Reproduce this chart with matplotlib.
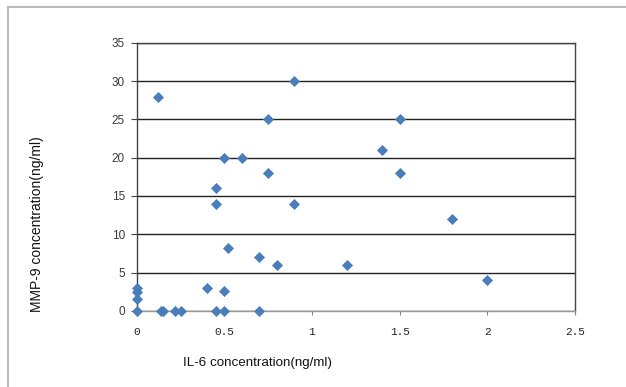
import numpy as np
import matplotlib.pyplot as plt
from matplotlib.lines import Line2D

# IL-6 vs MMP-9 concentrations (ng/ml)
il6 = [0, 0, 0, 0, 0.14, 0.15, 0.22, 0.25, 0.45, 0.5, 0.7,
       0.12, 0.4, 0.5, 0.52, 0.7, 0.8, 0.45, 0.45, 0.5, 0.6,
       0.75, 0.75, 0.9, 0.9, 1.2, 1.4, 1.5, 1.5, 1.8, 2.0]
mmp9 = [0, 1.5, 2.5, 3, 0, 0, 0, 0, 0, 0, 0,
        28, 3, 2.6, 8.2, 7, 6, 16, 14, 20, 20,
        25, 18, 30, 14, 6, 21, 25, 18, 12, 4]

xticks = [0, 0.5, 1, 1.5, 2, 2.5]
xticklabels = ['0', '0.5', '1', '1.5', '2', '2.5']
yticks = [0, 5, 10, 15, 20, 25, 30, 35]

fig = plt.figure(figsize=(6.26, 3.87), dpi=100)
ax = fig.add_axes([0.2184, 0.197, 0.7, 0.692])

ax.scatter(il6, mmp9, marker='D', s=32, color='#4a7ebb', zorder=3,
           linewidths=0, clip_on=False)

ax.set_xlim(0, 2.5)
ax.set_ylim(0, 35)
ax.set_xticks(xticks)
ax.set_xticklabels(xticklabels, family='Liberation Mono', fontsize=8,
                   color='#222222')
ax.set_yticks(yticks)
ax.tick_params(axis='y', direction='out', length=4.5, width=0.8,
               color='#444444', labelsize=8.5, labelcolor='#3a3a3a', pad=4)
ax.tick_params(axis='x', direction='out', length=3, width=0.8,
               color='#888888', pad=9)
for lab in ax.get_yticklabels():
    lab.set_family('Liberation Sans')

ax.grid(axis='y', color='#222222', linewidth=1.0)
ax.set_axisbelow(True)
for s in ['left', 'right', 'top']:
    ax.spines[s].set_color('#444444')
    ax.spines[s].set_linewidth(1.0)
ax.spines['bottom'].set_color('#999999')
ax.spines['bottom'].set_linewidth(1.0)

fig.text(0.412, 0.062, 'IL-6 concentration(ng/ml)', ha='center', va='center',
         family='Liberation Sans', fontsize=9.6, color='#111111')
fig.text(0.059, 0.421, 'MMP-9 concentration(ng/ml)', ha='center', va='center',
         rotation=90, family='Liberation Sans', fontsize=10, color='#111111')

# outer chart border (only top and left visible in the crop)
fig.add_artist(Line2D([0.013, 0.013], [0, 0.982], transform=fig.transFigure,
                      color='#bbbbbb', linewidth=1.5))
fig.add_artist(Line2D([0.013, 1.0], [0.982, 0.982], transform=fig.transFigure,
                      color='#bbbbbb', linewidth=1.5))

fig.savefig('out.png', dpi=100)
